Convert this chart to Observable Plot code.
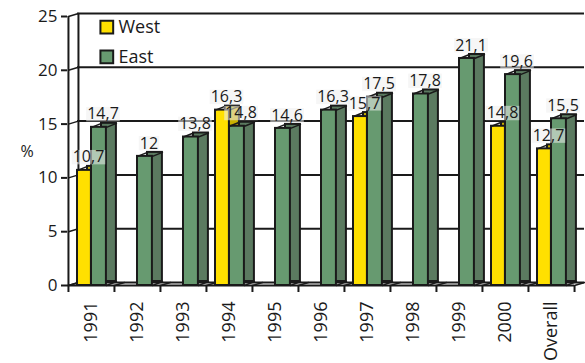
<!DOCTYPE html>
<html>
<head>
<meta charset="utf-8">
<script src="https://cdn.jsdelivr.net/npm/d3@7"></script>
<script src="https://cdn.jsdelivr.net/npm/@observablehq/plot@0.6"></script>
<style>
  html, body { margin: 0; padding: 0; background: white; }
  #chart { width: 585px; height: 363px; overflow: hidden; }
</style>
</head>
<body>
<div id="chart"></div>
<script>
// ---- data ----
const categories = ["1991", "1992", "1993", "1994", "1995", "1996", "1997", "1998", "1999", "2000", "Overall"];
const series = ["West", "East"];
const westValues = [10.7, null, null, 16.3, null, null, 15.7, null, null, 14.8, 12.7];
const eastValues = [14.7, 12, 13.8, 14.8, 14.6, 16.3, 17.5, 17.8, 21.1, 19.6, 15.5];
const yTicks = [0, 5, 10, 15, 20, 25];
const yLabel = "%";

// ---- layout / style ----
const W = 585, H = 363;
const mL = 67, mR = 11, mT = 16, mB = 78;
const bw = (W - mL - mR) / categories.length;
const DX = 10, DY = -4;               // bar depth offset
const WDX = 10, WDY = -3;             // wall depth offset
const yellow = "#ffe000", yellowSide = "#c8b000";
const green = "#679a70", greenSide = "#5b7a60";
const ink = "#1a1a1a";
const fmt = v => String(v).replace(".", ",");

const westRows = categories.map((c, i) => ({cat: c, value: westValues[i]})).filter(d => d.value != null);
const eastRows = categories.map((c, i) => ({cat: c, value: eastValues[i]})).filter(d => d.value != null);
const first = categories[0], last = categories[categories.length - 1];

const W0 = 9, W1 = 23, E0 = 23, E1 = 38; // bar positions inside band (px)

const diag = (data, opts, dx = DX, dy = DY) => Plot.vector(data, {
  length: Math.hypot(dx, dy), rotate: Math.atan2(dx, -dy) * 180 / Math.PI,
  anchor: "start", r: 0, stroke: ink, strokeWidth: 1.5, ...opts
});

const plot = Plot.plot({
  width: W, height: H,
  marginLeft: mL, marginRight: mR, marginTop: mT, marginBottom: mB,
  style: {fontFamily: "'Open Sans', sans-serif", fontSize: "16px", color: ink, background: "white"},
  x: {domain: categories, padding: 0},
  y: {domain: [yTicks[0], yTicks[yTicks.length - 1]]},
  marks: [
    // back wall gridlines
    Plot.ruleY(yTicks, {y: d => d, dx: WDX, dy: WDY, stroke: ink, strokeWidth: 2}),
    // back wall left edge
    Plot.ruleX([first], {x: d => d, y1: () => yTicks[0], y2: () => yTicks[yTicks.length - 1], dx: -bw / 2 + WDX, dy: WDY, stroke: ink, strokeWidth: 2}),
    // floor front edge
    Plot.ruleY([0], {y: d => d, stroke: ink, strokeWidth: 2}),
    // wall diagonals at y ticks
    diag(yTicks, {x: () => first, y: d => d, dx: -bw / 2}, WDX, WDY),
    // floor diagonals at category boundaries
    diag(categories, {x: d => d, y: () => 0, dx: -bw / 2}, WDX, WDY),
    diag([last], {x: d => d, y: () => 0, dx: bw / 2}, WDX, WDY),

    // West bars (side, front, edges)
    Plot.barY(westRows, {x: "cat", y: "value", fill: yellowSide, stroke: ink, strokeWidth: 2, insetLeft: W0, insetRight: bw - W1, dx: DX, dy: DY}),
    Plot.barY(westRows, {x: "cat", y: "value", fill: yellow, stroke: ink, strokeWidth: 2, insetLeft: W0, insetRight: bw - W1}),
    diag(westRows, {x: "cat", y: "value", dx: -bw / 2 + W0}),
    diag(westRows, {x: "cat", y: "value", dx: -bw / 2 + W1}),

    // East bars
    Plot.barY(eastRows, {x: "cat", y: "value", fill: greenSide, stroke: ink, strokeWidth: 2, insetLeft: E0, insetRight: bw - E1, dx: DX, dy: DY}),
    Plot.barY(eastRows, {x: "cat", y: "value", fill: green, stroke: ink, strokeWidth: 2, insetLeft: E0, insetRight: bw - E1}),
    diag(eastRows, {x: "cat", y: "value", dx: -bw / 2 + E0}),
    diag(eastRows, {x: "cat", y: "value", dx: -bw / 2 + E1}),
    diag(eastRows, {x: "cat", y: () => 0, dx: -bw / 2 + E1}),

    // front axis line
    Plot.ruleX([first], {x: d => d, y1: () => yTicks[0], y2: () => yTicks[yTicks.length - 1], dx: -bw / 2, stroke: ink, strokeWidth: 2}),
    // x boundary ticks
    Plot.ruleX(categories, {x: d => d, y1: () => 0, y2: () => 0, insetBottom: -7, dx: -bw / 2, stroke: ink, strokeWidth: 2}),
    Plot.ruleX([last], {x: d => d, y1: () => 0, y2: () => 0, insetBottom: -7, dx: bw / 2, stroke: ink, strokeWidth: 2}),

    Plot.axisY(yTicks, {tickSize: 6, tickPadding: 4, strokeWidth: 2, fontSize: 17, label: null}),
    Plot.axisX({tickSize: 0, tickPadding: 16, tickRotate: -90, fontSize: 18, label: null}),

    // value labels
    Plot.text(westRows, {x: "cat", y: "value", text: d => fmt(d.value), dx: -3, dy: -13, fontSize: 16, fill: ink, ariaDescription: "boxed"}),
    Plot.text(eastRows, {x: "cat", y: "value", text: d => fmt(d.value), dx: 11.5, dy: -13, fontSize: 16, fill: ink, ariaDescription: "boxed"}),

    // legend
    Plot.dot([series[0]], {frameAnchor: "top-left", dx: 39.3, dy: 10.7, symbol: "square", r: 7.2, fill: yellow, stroke: ink, strokeWidth: 2}),
    Plot.dot([series[1]], {frameAnchor: "top-left", dx: 39.3, dy: 40.3, symbol: "square", r: 7.2, fill: green, stroke: ink, strokeWidth: 2}),
    Plot.text([series[0]], {frameAnchor: "top-left", lineAnchor: "middle", text: d => d, dx: 51, dy: 11, textAnchor: "start", fontSize: 18, fill: ink}),
    Plot.text([series[1]], {frameAnchor: "top-left", lineAnchor: "middle", text: d => d, dx: 51, dy: 41, textAnchor: "start", fontSize: 18, fill: ink}),

    // y label
    Plot.text([yLabel], {frameAnchor: "left", lineAnchor: "middle", text: d => d, dx: -47, dy: 1, fontSize: 16, fill: ink})
  ]
});

document.getElementById("chart").appendChild(plot);

// semi-transparent boxes behind value labels
const NS = "http://www.w3.org/2000/svg";
plot.querySelectorAll('g[aria-description="boxed"] text').forEach(t => {
  const b = t.getBBox();
  const fs = 16;
  const baseline = b.y + b.height * (1.069 / 1.362);
  const r = document.createElementNS(NS, "rect");
  r.setAttribute("x", b.x - 1);
  r.setAttribute("y", baseline - 0.8 * fs);
  r.setAttribute("width", b.width + 2);
  r.setAttribute("height", 0.9 * fs);
  r.setAttribute("fill", "#efefef");
  r.setAttribute("fill-opacity", "0.55");
  const tr = t.getAttribute("transform");
  if (tr) r.setAttribute("transform", tr);
  t.parentNode.insertBefore(r, t);
});
</script>
</body>
</html>
